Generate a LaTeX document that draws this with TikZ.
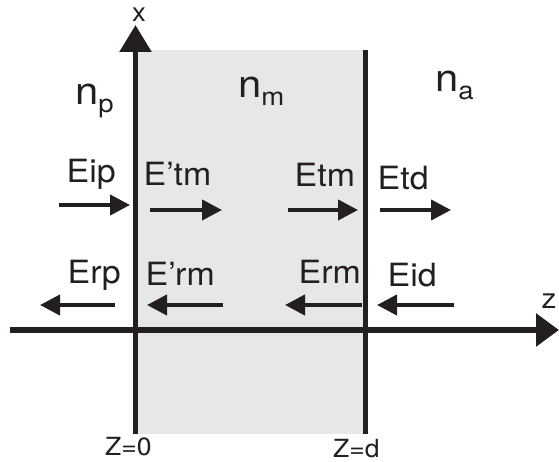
\documentclass[tikz,border=0pt]{standalone}
\usepackage{fontspec}
\setmainfont{TeX Gyre Heros}
\usetikzlibrary{arrows.meta}
\definecolor{ink}{HTML}{231F20}
\definecolor{slabgray}{HTML}{E6E7E8}
\newcommand{\stretchx}[1]{\scalebox{1.06}[1]{#1}}
\newcommand{\nsub}[2]{\scalebox{1.1}[1]{\fontsize{38}{38}\selectfont #1\raisebox{-8pt}{\fontsize{25}{25}\selectfont #2}}}
\tikzset{
  lbl/.style={anchor=base west, inner sep=0pt, text=ink, font=\fontsize{32}{32}\selectfont},
  smalllbl/.style={anchor=base west, inner sep=0pt, text=ink, font=\fontsize{25}{25}\selectfont},
  axislbl/.style={anchor=center, inner sep=0pt, text=ink, font=\fontsize{26}{26}\selectfont},
  field/.style={draw=ink, line width=4pt, -{Triangle[length=20pt,width=20pt]}},
  axisline/.style={draw=ink, line width=5.5pt},
  slab/.style={fill=slabgray},
}
\begin{document}
\begin{tikzpicture}[x=1pt,y=-1pt]
\useasboundingbox (0,0) rectangle (559,462);
% slab
\fill[slab] (137,50) rectangle (364,434);
% axes and interfaces
\coordinate (xbot) at (135.5,434);
\coordinate (xtop) at (135.5,25);
\coordinate (zleft) at (10,330);
\coordinate (zright) at (559,330);
\coordinate (dtop) at (365.5,50);
\coordinate (dbot) at (365.5,434);
\draw[axisline] (dtop) -- (dbot);
\draw[axisline, -{Triangle[length=27pt,width=31pt]}] (xbot) -- (xtop);
\draw[axisline, line width=6pt, -{Triangle[length=23pt,width=32pt]}] (zleft) -- (zright);
% axis labels
\node[axislbl] (xl) at (139,15) {\stretchx{x}};
\node[axislbl, font=\fontsize{28}{28}\selectfont] (zl) at (549,301) {\stretchx{z}};
\node[smalllbl] (z0) at (105,455) {\stretchx{Z=0}};
\node[smalllbl] (zd) at (333,457) {\stretchx{Z=d}};
% refractive indices
\node[anchor=base west, inner sep=0pt, text=ink] (np) at (75,105) {\nsub{n}{p}};
\node[anchor=base west, inner sep=0pt, text=ink] (nm) at (238,98) {\nsub{n}{m}};
\node[anchor=base west, inner sep=0pt, text=ink] (na) at (435,92) {\nsub{n}{a}};
% field labels row 1
\node[lbl] (Eip) at (66.5,183) {\stretchx{Eip}};
\node[lbl] (Etmp) at (143.5,185.5) {\stretchx{E’tm}};
\node[lbl] (Etm) at (294.5,186.5) {\stretchx{Etm}};
\node[lbl] (Etd) at (377.5,190) {\stretchx{Etd}};
% field labels row 2
\node[lbl] (Erp) at (67.5,283) {\stretchx{Erp}};
\node[lbl] (Ermp) at (145.5,285) {\stretchx{E’rm}};
\node[lbl] (Erm) at (298.5,283) {\stretchx{Erm}};
\node[lbl] (Eid) at (387.5,286) {\stretchx{Eid}};
% arrows row 1 (forward)
\coordinate (a1s) at (59,205);  \coordinate (a1e) at (130,205);
\coordinate (a2s) at (150,210); \coordinate (a2e) at (222,210);
\coordinate (a3s) at (288,210); \coordinate (a3e) at (358,210);
\coordinate (a4s) at (380,210); \coordinate (a4e) at (451,210);
\draw[field] (a1s) -- (a1e);
\draw[field] (a2s) -- (a2e);
\draw[field] (a3s) -- (a3e);
\draw[field] (a4s) -- (a4e);
% arrows row 2 (backward)
\coordinate (b1s) at (115,305); \coordinate (b1e) at (40,305);
\coordinate (b2s) at (223,305); \coordinate (b2e) at (147,305);
\coordinate (b3s) at (362,305); \coordinate (b3e) at (285,305);
\coordinate (b4s) at (454,305); \coordinate (b4e) at (377,305);
\draw[field] (b1s) -- (b1e);
\draw[field] (b2s) -- (b2e);
\draw[field] (b3s) -- (b3e);
\draw[field] (b4s) -- (b4e);
\end{tikzpicture}
\end{document}
